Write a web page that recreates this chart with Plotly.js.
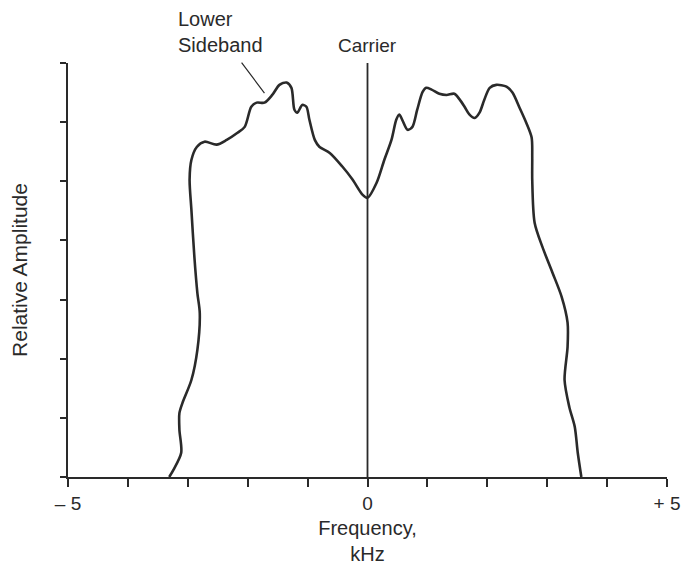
<!DOCTYPE html>
<html>
<head>
<meta charset="utf-8">
<script src="https://cdn.plot.ly/plotly-3.0.1.min.js"></script>
<style>html,body{margin:0;padding:0;background:#fff;}#chart{width:685px;height:565px;}</style>
</head>
<body>
<div id="chart"></div>
<script>
// Spectrum outline (frequency in kHz, relative amplitude)
const freq = [-3.31,-3.24,-3.11,-3.14,-3.14,-3.09,-2.94,-2.84,-2.80,-2.84,-2.89,-2.94,-2.97,-2.94,-2.85,-2.72,-2.52,-2.35,-2.17,-2.05,-1.94,-1.85,-1.72,-1.59,-1.47,-1.35,-1.27,-1.22,-1.17,-1.09,-1.02,-0.97,-0.88,-0.80,-0.63,-0.42,-0.25,-0.08,0,0.15,0.28,0.40,0.48,0.53,0.58,0.67,0.75,0.83,0.92,0.98,1.07,1.20,1.32,1.45,1.54,1.62,1.70,1.79,1.87,1.95,2.04,2.15,2.32,2.42,2.54,2.65,2.74,2.75,2.75,2.79,2.92,3.09,3.24,3.34,3.34,3.29,3.37,3.46,3.51,3.57];
const amp  = [0,0.12,0.41,0.80,1.08,1.25,1.64,2.15,2.77,3.11,3.72,4.52,5.03,5.36,5.58,5.67,5.62,5.70,5.82,5.92,6.26,6.33,6.33,6.46,6.63,6.67,6.58,6.21,6.16,6.29,6.26,6.04,5.70,5.58,5.48,5.25,5.03,4.77,4.72,4.97,5.36,5.70,6.04,6.13,6.04,5.87,5.92,6.21,6.51,6.58,6.55,6.48,6.46,6.48,6.38,6.26,6.13,6.07,6.16,6.38,6.58,6.63,6.60,6.50,6.24,5.99,5.74,5.41,5.03,4.30,3.89,3.45,3.05,2.61,2.20,1.64,1.18,0.85,0.41,0];
// Carrier line
const carrierX = [0, 0];
const carrierY = [0, 7];
// Axis ticks
const xTickVals = [-5,-4,-3,-2,-1,0,1,2,3,4,5];
const xTickText = ['\u2013 5','','','','','0','','','','','+ 5'];
const yTickVals = [0,1,2,3,4,5,6,7];

const ink = '#2a2a2a';
const traces = [
  {x: carrierX, y: carrierY, mode: 'lines', line: {color: ink, width: 1.8}, hoverinfo: 'skip', showlegend: false},
  {x: freq, y: amp, mode: 'lines', line: {color: ink, width: 2.6, shape: 'spline', smoothing: 0.8}, showlegend: false}
];

const layout = {
  width: 685, height: 565,
  margin: {l: 68, r: 18, t: 63, b: 88},
  paper_bgcolor: '#fff', plot_bgcolor: '#fff',
  font: {family: 'Liberation Sans, Arial, sans-serif', color: ink, size: 19},
  showlegend: false,
  xaxis: {
    range: [-5, 5], tickvals: xTickVals, ticktext: xTickText,
    ticks: 'outside', ticklen: 8, tickwidth: 2, tickcolor: ink,
    showline: true, linecolor: ink, linewidth: 2.2, showgrid: false, zeroline: false,
    tickfont: {size: 19, color: ink},
    title: {text: 'Frequency,<br>kHz', font: {size: 20, color: ink}, standoff: 18}
  },
  yaxis: {
    range: [0, 7], tickvals: yTickVals, showticklabels: false,
    ticks: 'outside', ticklen: 6, tickwidth: 2, tickcolor: ink,
    showline: true, linecolor: ink, linewidth: 2.2, showgrid: false, zeroline: false,
    title: {text: 'Relative Amplitude', font: {size: 21, color: ink}, standoff: 27}
  },
  annotations: [
    {x: 0, y: 1.043, xref: 'x', yref: 'paper', text: 'Carrier', showarrow: false, xanchor: 'center', yanchor: 'middle', font: {size: 19, color: ink}},
    {x: -3.2, y: 1.074, xref: 'x', yref: 'paper', text: 'Lower<br>Sideband', align: 'left', showarrow: false, xanchor: 'left', yanchor: 'middle', font: {size: 20, color: ink}},
    {x: -1.72, y: 6.49, xref: 'x', yref: 'y', text: '', showarrow: true, arrowhead: 0, arrowwidth: 1.2, arrowcolor: ink, ax: -24, ay: -32}
  ]
};

Plotly.newPlot('chart', traces, layout, {staticPlot: true, displayModeBar: false});
</script>
</body>
</html>
